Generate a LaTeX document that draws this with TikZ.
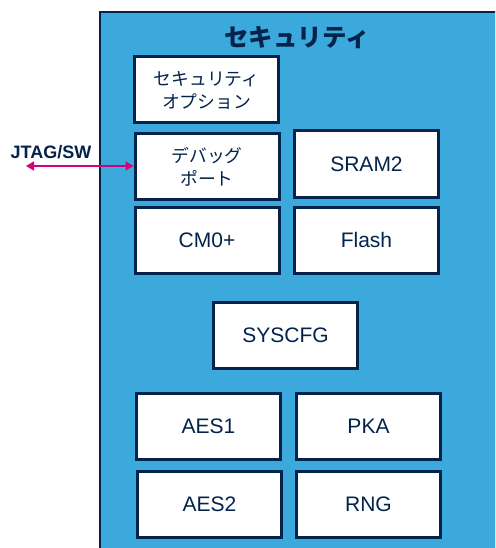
\documentclass[tikz,border=0pt]{standalone}
\usepackage{fontspec}
\setmainfont{Liberation Sans}
\newfontfamily\jp{Noto Sans CJK JP}
\usetikzlibrary{arrows.meta}
\definecolor{navy}{HTML}{03234B}
\definecolor{secblue}{HTML}{3BA9DC}
\definecolor{magen}{HTML}{D4007A}
\tikzset{
  blk/.style={draw=navy, line width=3pt, fill=white, minimum width=144pt, minimum height=66pt, inner sep=0pt, text=navy, font=\fontsize{21}{24}\selectfont, align=center},
  jpblk/.style={blk, font=\jp\fontsize{17.8}{23}\selectfont},
  link/.style={magen, line width=1.4pt, {Triangle[length=8pt,width=9pt]}-{Triangle[length=8pt,width=9pt]}}
}
\begin{document}
\begin{tikzpicture}[x=1pt,y=-1pt]
\useasboundingbox (0,0) rectangle (495,548);
\clip (0,0) rectangle (495,548);
\fill[white] (0,0) rectangle (495,548);
\draw[navy, line width=2.4pt, fill=secblue] (100,12) rectangle (520,580);
\node[text=navy, font=\jp\bfseries\fontsize{24.5}{28}\selectfont] (title) at (297,38) {セキュリティ};
\node[jpblk] (secopt) at (206.5,90) {セキュリティ\\オプション};
\node[jpblk] (debug) at (207,166.5) {デバッグ\\ポート};
\node[blk] (sram) at (366.5,164) {SRAM2};
\node[blk] (cm0) at (207,240) {CM0+};
\node[blk] (flash) at (366.5,240) {Flash};
\node[blk] (syscfg) at (285.5,335) {SYSCFG};
\node[blk] (aes1) at (208.5,426.5) {AES1};
\node[blk] (pka) at (368.5,426.5) {PKA};
\node[blk] (aes2) at (209.5,504) {AES2};
\node[blk] (rng) at (368.5,504) {RNG};
\node[text=navy, font=\bfseries\fontsize{18}{20}\selectfont] (jtag) at (51,152) {JTAG/SW};
\coordinate (jtagend) at (26,166);
\draw[link] (jtagend) -- (debug.west |- jtagend);
\end{tikzpicture}
\end{document}
